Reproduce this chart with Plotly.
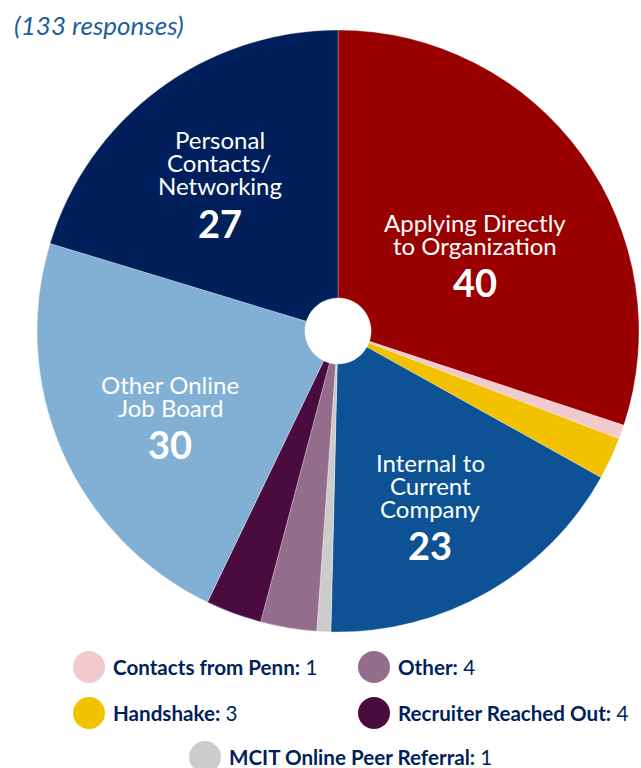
import math
import plotly.graph_objects as go

labels = ["Applying Directly to Organization", "Contacts from Penn", "Handshake",
          "Internal to Current Company", "MCIT Online Peer Referral", "Other",
          "Recruiter Reached Out", "Other Online Job Board", "Personal Contacts/Networking"]
values = [40, 1, 3, 23, 1, 4, 4, 30, 27]
colors = ["#990000", "#F2C9CD", "#F2C100", "#0D5294", "#CCCCCC", "#946C8C",
          "#4A0C3F", "#82AFD4", "#011F5B"]
slice_lines = [["Applying Directly", "to Organization"], [], [],
               ["Internal to", "Current", "Company"], [], [], [],
               ["Other Online", "Job Board"], ["Personal", "Contacts/", "Networking"]]
legend_items = ["Contacts from Penn", "Other", "Handshake", "Recruiter Reached Out",
                "MCIT Online Peer Referral"]
subtitle = "(133 responses)"

# styling / placement
W, H = 641, 768
PIE_L, PIE_R, PIE_T, PIE_B = 37, 639, 30, 632
label_rfrac = [0.525, 0, 0, 0.65, 0, 0, 0, 0.623, 0.634]
label_dang = [6.0, 0, 0, 1.7, 0, 0, 0, -2.7, -1.7]
LINE_GAP, NUM_GAP = 23, 37

fig = go.Figure()
fig.add_trace(go.Pie(
    labels=labels, values=values, sort=False, direction="clockwise", rotation=0,
    hole=0.11, marker=dict(colors=colors, line=dict(color="rgba(255,255,255,0.6)", width=0.5)),
    textinfo="none", showlegend=False, hoverinfo="label+value",
    domain=dict(x=[PIE_L / W, PIE_R / W], y=[1 - PIE_B / H, 1 - PIE_T / H]),
))

annotations = []
shapes = []

cx_px = (PIE_L + PIE_R) / 2
cy_px = (PIE_T + PIE_B) / 2
R = (PIE_R - PIE_L) / 2
total = sum(values)
cum = 0
for lines, v, rf, da in zip(slice_lines, values, label_rfrac, label_dang):
    mid = (cum + v / 2) / total * 2 * math.pi + math.radians(da)
    cum += v
    if not lines:
        continue
    bx = cx_px + rf * R * math.sin(mid)
    by = cy_px - rf * R * math.cos(mid)
    span = LINE_GAP * (len(lines) - 1) + NUM_GAP
    y0 = by - span / 2
    for i, ln in enumerate(lines):
        annotations.append(dict(x=bx / W, y=1 - (y0 + i * LINE_GAP) / H,
                                xref="paper", yref="paper", text=ln, showarrow=False,
                                xanchor="center", yanchor="middle",
                                font=dict(family="Lato", size=24, color="white")))
    annotations.append(dict(x=bx / W, y=1 - (y0 + span) / H, xref="paper", yref="paper",
                            text=f"<b>{v}</b>", showarrow=False,
                            xanchor="center", yanchor="middle",
                            font=dict(family="Lato", size=38, color="white")))

annotations.append(dict(x=12 / W, y=1 - 25 / H, xref="paper", yref="paper",
                        text=f"<i>{subtitle}</i>", showarrow=False, xanchor="left",
                        yanchor="middle", font=dict(family="Lato", size=26, color="#1F5D9C")))

legend_pos = [(89, 667), (374, 667), (89, 713), (374, 713), (205, 757)]
for name, (lx, ly) in zip(legend_items, legend_pos):
    i = labels.index(name)
    r = 16
    shapes.append(dict(type="circle", xref="paper", yref="paper",
                       x0=(lx - r) / W, x1=(lx + r) / W,
                       y0=1 - (ly + r) / H, y1=1 - (ly - r) / H,
                       fillcolor=colors[i], line=dict(width=0)))
    annotations.append(dict(x=(lx + 22) / W, y=1 - ly / H, xref="paper", yref="paper",
                            text=f"<b>{name}:</b> {values[i]}", showarrow=False,
                            xanchor="left", yanchor="middle",
                            font=dict(family="Lato", size=20.6, color="#011F5B")))

fig.update_layout(width=W, height=H, margin=dict(l=0, r=0, t=0, b=0),
                  paper_bgcolor="white", plot_bgcolor="white",
                  shapes=shapes, annotations=annotations)
fig.write_html("out.html", config={"displayModeBar": False},
               post_script="document.body.style.margin='0';document.body.style.overflow='hidden';")
